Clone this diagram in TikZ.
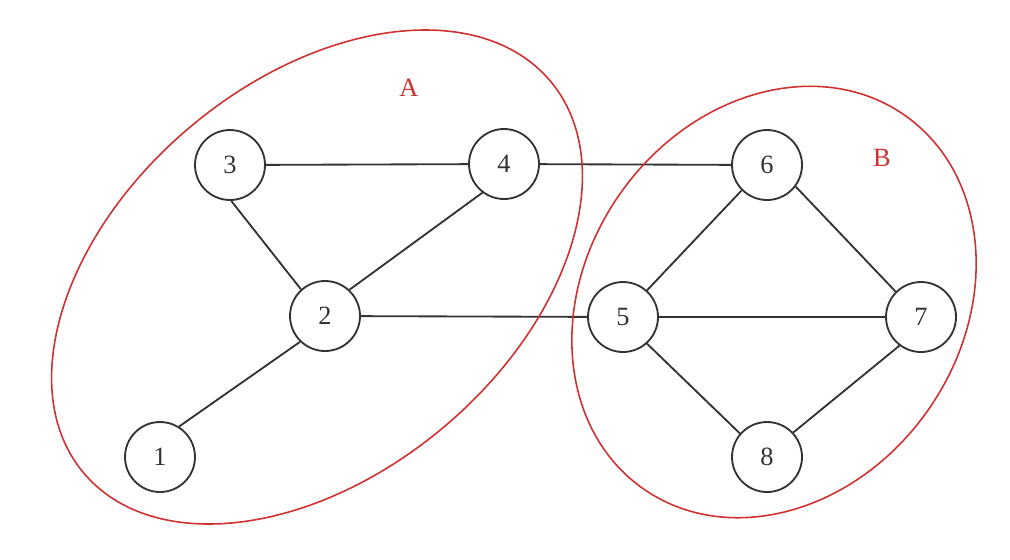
\documentclass[tikz,border=0pt]{standalone}
\usepackage{fontspec}
\setmainfont{Liberation Serif}
\usetikzlibrary{shapes.geometric}
\definecolor{edgegray}{HTML}{333333}
\definecolor{groupred}{HTML}{D03030}

\begin{document}
\begin{tikzpicture}[
  x=0.02cm, y=-0.02cm,
  font=\fontsize{15}{18}\selectfont,
  vertex/.style={
    draw=edgegray,
    circle,
    line width=1.05pt,
    minimum size=1.4cm,
    inner sep=0pt,
    text=edgegray
  },
  link/.style={draw=edgegray, line width=1.05pt},
  group/.style={
    draw=groupred,
    ellipse,
    line width=0.9pt,
    inner sep=0pt
  },
  grouplabel/.style={text=groupred}
]
\useasboundingbox (0,0) rectangle (1010,559);

% vertices
\node[vertex] (n1) at (160,457) {1};
\node[vertex] (n2) at (325,316) {2};
\node[vertex] (n3) at (230,165) {3};
\node[vertex] (n4) at (504,164) {4};
\node[vertex] (n5) at (623,317) {5};
\node[vertex] (n6) at (767,165) {6};
\node[vertex] (n7) at (921,317) {7};
\node[vertex] (n8) at (767,457) {8};

% edges
\draw[link] (n3) -- (n4);
\draw[link] (n4) -- (n6);
\draw[link] (n3.272) -- (n2.132);
\draw[link] (n2.47) -- (n4.233);
\draw[link] (n2.226) -- (n1.58);
\draw[link] (n2) -- (n5);
\draw[link] (n5.48) -- (n6.225);
\draw[link] (n6.323) -- (n7.135);
\draw[link] (n5) -- (n7);
\draw[link] (n5.312) -- (n8.139);
\draw[link] (n8.43) -- (n7.233);

% communities
\node[group, minimum width=12.19cm, minimum height=7.86cm, rotate=40] (groupA) at (317,277) {};
\node[group, minimum width=9.12cm, minimum height=7.53cm, rotate=55] (groupB) at (774,302) {};
\node[grouplabel] (labA) at (409,88) {A};
\node[grouplabel] (labB) at (882,158) {B};

\end{tikzpicture}
\end{document}
